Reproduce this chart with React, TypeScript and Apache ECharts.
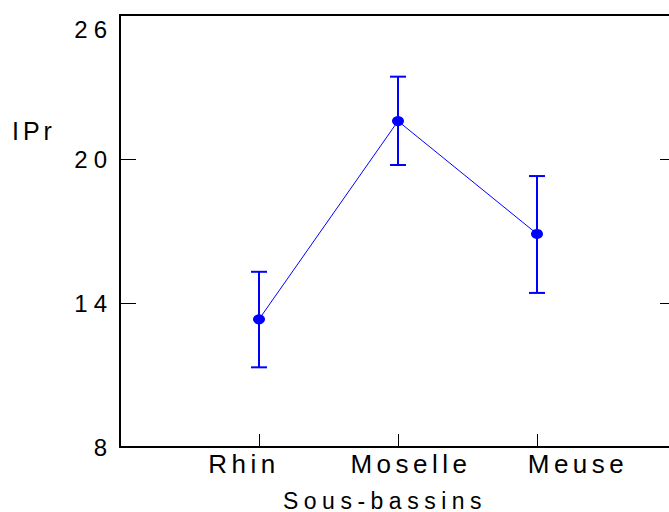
import React, { useEffect, useRef } from "react";
import * as echarts from "echarts";

const categories = ["Rhin", "Moselle", "Meuse"];
const categoryPositions = [1, 2, 3];
const means = [13.32, 21.58, 16.88];
const lows = [11.32, 19.75, 14.42];
const highs = [15.3, 23.43, 19.29];
const yTicks = [8, 14, 20, 26];

const BLUE = "#0000ff";
const FONT = "'Liberation Sans', Arial, sans-serif";

export default function App() {
  const ref = useRef<HTMLDivElement>(null);

  useEffect(() => {
    const chart = echarts.init(ref.current!, null, { renderer: "svg" });
    const xLabelStyle = { fontSize: 26, fontFamily: FONT, color: "#000" };
    const option: any = {
      animation: false,
      backgroundColor: "#fff",
      textStyle: { fontFamily: FONT },
      grid: {
        left: 120,
        top: 15,
        width: 556,
        height: 432,
        containLabel: false,
        outerBoundsMode: "none",
      },
      graphic: [
        {
          type: "text",
          left: 12,
          top: 118,
          style: { text: "IPr", fontSize: 25, fontFamily: FONT, fill: "#000" },
        },
      ],
      xAxis: [
        {
          type: "value",
          min: 0,
          max: 4,
          interval: 1,
          position: "bottom",
          axisLine: { show: true, onZero: false, lineStyle: { color: "#000", width: 2 } },
          axisTick: {
            show: true,
            inside: true,
            length: 13,
            customValues: categoryPositions,
            lineStyle: { color: "#000", width: 1 },
          },
          splitLine: { show: false },
          axisLabel: {
            customValues: categoryPositions,
            margin: 4,
            ...xLabelStyle,
            formatter: (v: number) => {
              const i = categoryPositions.indexOf(v);
              return i < 0 ? "" : `{c${i}|${categories[i]}}`;
            },
            rich: {
              c0: { ...xLabelStyle, padding: [0, 30, 0, 0] },
              c1: { ...xLabelStyle, padding: [0, 0, 0, 26] },
              c2: { ...xLabelStyle, padding: [0, 0, 0, 82] },
            },
          },
          name: "Sous-bassins",
          nameLocation: "middle",
          nameGap: 42,
          nameTextStyle: {
            fontSize: 23,
            fontFamily: FONT,
            color: "#000",
            padding: [0, 26, 0, 0],
          },
        },
        {
          type: "value",
          min: 0,
          max: 4,
          interval: 1,
          position: "top",
          axisLine: { show: true, onZero: false, lineStyle: { color: "#000", width: 2 } },
          axisTick: { show: false },
          axisLabel: { show: false },
          splitLine: { show: false },
        },
      ],
      yAxis: [
        {
          type: "value",
          min: yTicks[0],
          max: yTicks[yTicks.length - 1],
          interval: yTicks[1] - yTicks[0],
          position: "left",
          axisLine: { show: true, onZero: false, lineStyle: { color: "#000", width: 2 } },
          axisTick: { show: true, inside: true, length: 16, lineStyle: { color: "#000", width: 1 } },
          splitLine: { show: false },
          axisLabel: {
            margin: 7,
            fontSize: 24,
            fontFamily: FONT,
            color: "#000",
            formatter: (v: number) =>
              v === yTicks[yTicks.length - 1] ? `{t|${v}}` : `${v}`,
            rich: {
              t: { fontSize: 24, fontFamily: FONT, color: "#000", padding: [28, 0, 0, 0] },
            },
          },
        },
        {
          type: "value",
          min: yTicks[0],
          max: yTicks[yTicks.length - 1],
          interval: yTicks[1] - yTicks[0],
          position: "right",
          axisLine: { show: true, onZero: false, lineStyle: { color: "#000", width: 2 } },
          axisTick: { show: true, inside: true, length: 16, lineStyle: { color: "#000", width: 1 } },
          splitLine: { show: false },
          axisLabel: { show: false },
        },
      ],
      series: [
        {
          type: "custom",
          xAxisIndex: 0,
          yAxisIndex: 0,
          data: categoryPositions.map((x, i) => [x, lows[i], highs[i]]),
          renderItem: (params: any, api: any) => {
            const x = api.value(0);
            const pLo = api.coord([x, api.value(1)]);
            const pHi = api.coord([x, api.value(2)]);
            const half = 8;
            const st = { stroke: BLUE, lineWidth: 2 };
            return {
              type: "group",
              children: [
                { type: "line", shape: { x1: pLo[0], y1: pLo[1], x2: pHi[0], y2: pHi[1] }, style: st },
                { type: "line", shape: { x1: pHi[0] - half, y1: pHi[1], x2: pHi[0] + half, y2: pHi[1] }, style: st },
                { type: "line", shape: { x1: pLo[0] - half, y1: pLo[1], x2: pLo[0] + half, y2: pLo[1] }, style: st },
              ],
            };
          },
          z: 2,
        },
        {
          type: "line",
          xAxisIndex: 0,
          yAxisIndex: 0,
          data: categoryPositions.map((x, i) => [x, means[i]]),
          symbol: "circle",
          symbolSize: [12, 10],
          showSymbol: true,
          itemStyle: { color: BLUE },
          lineStyle: { color: BLUE, width: 1 },
          z: 3,
        },
      ],
    };
    chart.setOption(option);
    return () => chart.dispose();
  }, []);

  const css =
    "html, body { margin: 0; overflow: hidden; }" +
    "#chartbox svg text { letter-spacing: 5.5px; }" +
    '#chartbox svg text[style*="24px"] { letter-spacing: 6px; }' +
    '#chartbox svg text[style*="26px"] { letter-spacing: 4.5px; }' +
    '#chartbox svg text[style*="25px"] { letter-spacing: 4px; }';

  return (
    <>
      <style>{css}</style>
      <div
        id="chartbox"
        ref={ref}
        style={{ position: "fixed", left: 0, top: 0, width: 669, height: 512, overflow: "hidden" }}
      />
    </>
  );
}
